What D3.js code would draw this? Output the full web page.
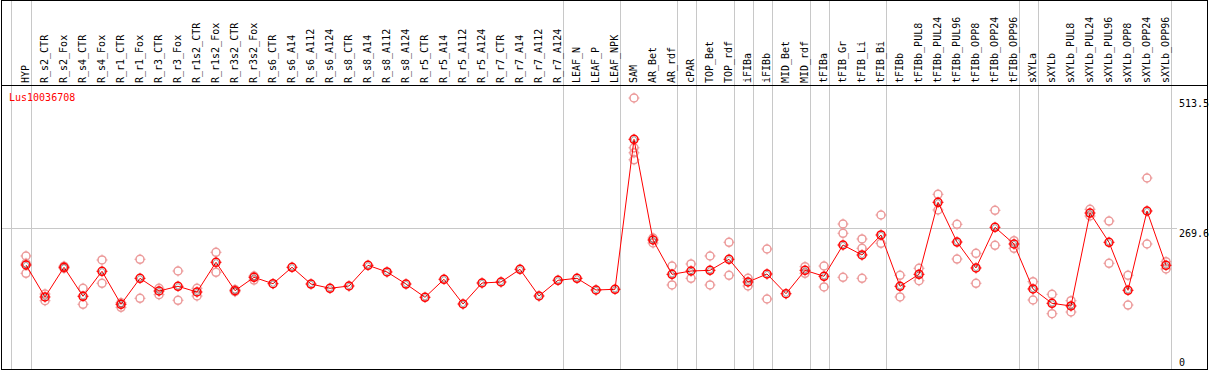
<!DOCTYPE html>
<html>
<head>
<meta charset="utf-8">
<script src="https://cdn.jsdelivr.net/npm/d3@7"></script>
<style>
  body { margin: 0; background: #fff; }
  text { font-family: "DejaVu Sans Mono", monospace; }
</style>
</head>
<body>
<svg id="chart-root" width="1209" height="370"></svg>
<script>

// gene id shown in the corner
const geneName = 'Lus10036708';

// sample names, left to right
const samples = ['HYP', 'R_s2_CTR', 'R_s2_Fox', 'R_s4_CTR', 'R_s4_Fox', 'R_r1_CTR', 'R_r1_Fox',
    'R_r3_CTR', 'R_r3_Fox', 'R_r1s2_CTR', 'R_r1s2_Fox', 'R_r3s2_CTR', 'R_r3s2_Fox',
    'R_s6_CTR', 'R_s6_A14', 'R_s6_A112', 'R_s6_A124', 'R_s8_CTR', 'R_s8_A14', 'R_s8_A112', 'R_s8_A124',
    'R_r5_CTR', 'R_r5_A14', 'R_r5_A112', 'R_r5_A124', 'R_r7_CTR', 'R_r7_A14', 'R_r7_A112', 'R_r7_A124',
    'LEAF_N', 'LEAF_P', 'LEAF_NPK', 'SAM', 'AR_Bet', 'AR_rdf', 'cPAR', 'TOP_Bet', 'TOP_rdf',
    'iFIBa', 'iFIBb', 'MID_Bet', 'MID_rdf', 'tFIBa', 'tFIB_Gr', 'tFIB_Li', 'tFIB_Bi',
    'tFIBb', 'tFIBb_PUL8', 'tFIBb_PUL24', 'tFIBb_PUL96', 'tFIBb_OPP8', 'tFIBb_OPP24', 'tFIBb_OPP96',
    'sXYLa', 'sXYLb', 'sXYLb_PUL8', 'sXYLb_PUL24', 'sXYLb_PUL96', 'sXYLb_OPP8', 'sXYLb_OPP24', 'sXYLb_OPP96'];

// mean expression per sample
const means = [200.2, 140.2, 195.9, 141.5, 188.4, 126.5, 175.2, 151.4, 160.2, 149.5, 205.3, 152.0, 177.1,
    165.1, 195.9, 164.5, 156.5, 160.8, 199.6, 187.1, 164.5, 139.6, 173.4, 127.0, 166.4, 168.3, 192.1, 142.0, 171.5,
    175.2, 153.3, 154.6, 436.0, 247.1, 182.7, 188.9, 190.2, 210.9,
    168.3, 183.3, 146.3, 190.2, 179.0, 237.7, 219.0, 256.5,
    160.2, 182.7, 317.8, 243.3, 194.6, 270.9, 239.6,
    155.2, 128.3, 123.3, 297.7, 242.8, 152.7, 301.5, 199.6];

// single replicates per sample (only those that show apart from the mean)
const replicates = [
    [217.1, 203.4, 184.6], [145.8, 133.2], [194.0, 198.0], [156.5, 126.5], [209.6, 165.9],
    [129.5, 120.8], [210.9, 137.7], [156.5, 144.5], [188.9, 134.0], [156.5, 142.0],
    [224.0, 186.5], [150.0, 154.0], [179.5, 172.0],
    [], [], [], [], [], [], [], [], [], [], [], [], [], [], [], [],
    [], [], [],
    [513.5, 420.1, 410.7, 397.6], [250.8, 241.5], [198.3, 162.7], [202.1, 175.2], [217.1, 162.7], [242.8, 180.9],
    [175.2, 160.8], [230.2, 136.4], [], [197.0, 184.6], [198.3, 159.0],
    [277.1, 259.7, 177.1], [249.0, 231.5, 175.2], [294.0, 240.9],
    [180.9, 140.2], [194.0, 170.7], [332.8, 303.4], [276.5, 211.4], [222.1, 165.9], [302.8, 237.1], [245.8, 231.5],
    [168.9, 134.5], [145.2, 108.8], [133.2, 112.0], [304.7, 292.1], [282.7, 203.4], [180.9, 125.1], [363.4, 239.6], [206.4, 192.7]
];

// index of the last sample in each tissue group
const groupEnds = [0, 28, 31, 34, 35, 37, 38, 39, 41, 42, 45, 52, 53, 60];

// values printed on the right side
const yTickValues = [513.5, 269.6, 0];
const yMax = 513.5;
const yGuide = 269.6;


const svg = d3.select('#chart-root');
const svgWidth = +svg.attr('width');
const svgHeight = +svg.attr('height');
const headerBottom = 85.5;

//Scales
const xScale = d3.scalePoint().domain(samples).range([26, 1166]).padding(0);
const yScale = d3.scaleLinear().domain([0, yMax]).range([371.7, 98]);

// gray separators between tissue groups
const sepX = [xScale(samples[0]) - 15.5].concat(groupEnds.map(i => xScale(samples[i]) + 4.5));
svg.append('g')
    .selectAll('line')
    .data(sepX)
    .enter().append('line')
    .attr('x1', d => Math.round(d) + 0.5)
    .attr('x2', d => Math.round(d) + 0.5)
    .attr('y1', 0)
    .attr('y2', svgHeight)
    .attr('stroke', '#c8c8c8');

// guide line at the middle value
svg.append('line')
    .attr('x1', 1)
    .attr('x2', 1177)
    .attr('y1', Math.round(yScale(yGuide)) + 0.5)
    .attr('y2', Math.round(yScale(yGuide)) + 0.5)
    .attr('stroke', '#c8c8c8');

// frame and header rule
svg.append('rect')
    .attr('x', 1.5).attr('y', 0.5)
    .attr('width', 1206).attr('height', 369)
    .attr('fill', 'none')
    .attr('stroke', '#000');
svg.append('line')
    .attr('x1', 1).attr('x2', 1208)
    .attr('y1', headerBottom).attr('y2', headerBottom)
    .attr('stroke', '#000');

// sample names, rotated
svg.append('g')
    .selectAll('text')
    .data(samples)
    .enter().append('text')
    .attr('transform', d => `translate(${xScale(d) + 2.5}, 83) rotate(-90)`)
    .attr('font-size', 10)
    .attr('fill', '#000')
    .text(d => d);

// y labels on the right
svg.append('g')
    .selectAll('text')
    .data(yTickValues)
    .enter().append('text')
    .attr('x', 1179)
    .attr('y', d => d == 0 ? 366 : yScale(d) + 8.5)
    .attr('font-size', 10)
    .attr('fill', '#000')
    .text(d => d);

svg.append('text')
    .attr('x', 9)
    .attr('y', 101)
    .attr('font-size', 10)
    .attr('fill', '#ff0000')
    .text(geneName);

// replicates, light
const repPoints = [];
replicates.forEach((reps, i) => reps.forEach(v => repPoints.push({ name: samples[i], value: v })));

const drawMarker = (sel, color) => {
    sel.append('circle')
        .attr('r', 4)
        .attr('fill', 'none')
        .attr('stroke', color)
        .attr('stroke-width', 1.5);
    // small ticks around the ring
    [[0, -5.5, 0, -3.5], [0, 3.5, 0, 5.5], [-5.5, 0, -3.5, 0], [3.5, 0, 5.5, 0]].forEach(t => {
        sel.append('line')
            .attr('x1', t[0]).attr('y1', t[1]).attr('x2', t[2]).attr('y2', t[3])
            .attr('stroke', color)
            .attr('stroke-width', 1);
    });
};

svg.append('g')
    .selectAll('g')
    .data(repPoints)
    .enter().append('g')
    .attr('transform', d => `translate(${xScale(d.name)}, ${yScale(d.value)})`)
    .each(function () { drawMarker(d3.select(this), '#ec9a9a'); });

// mean line
const meanData = samples.map((s, i) => ({ name: s, value: means[i] }));
svg.append('path')
    .datum(meanData)
    .attr('d', d3.line().x(d => xScale(d.name)).y(d => yScale(d.value)))
    .attr('fill', 'none')
    .attr('stroke', '#ff0000')
    .attr('stroke-width', 1);

const meanGroups = svg.append('g')
    .selectAll('g')
    .data(meanData)
    .enter().append('g')
    .attr('transform', d => `translate(${xScale(d.name)}, ${yScale(d.value)})`);
meanGroups.each(function () { drawMarker(d3.select(this), '#ff0000'); });
meanGroups.append('circle')
    .attr('r', 2.6)
    .attr('fill', 'none')
    .attr('stroke', '#000')
    .attr('stroke-opacity', 0.45)
    .attr('stroke-width', 0.8);

</script>
</body>
</html>
